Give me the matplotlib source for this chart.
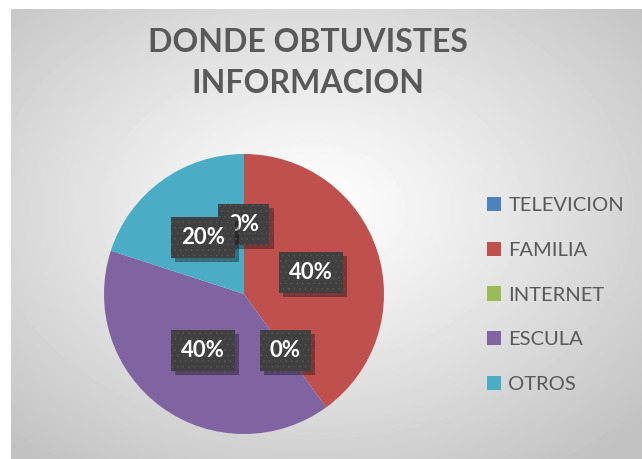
import matplotlib.pyplot as plt
import numpy as np
from matplotlib import patheffects as pe

# data
labels = ['TELEVICION', 'FAMILIA', 'INTERNET', 'ESCULA', 'OTROS']
values = [0, 40, 0, 40, 20]
colors = ['#4f81bd', '#c0504d', '#9bbb59', '#8064a2', '#4bacc6']

plt.rcParams['font.family'] = ['Lato', 'DejaVu Sans']
plt.rcParams['hatch.linewidth'] = 0.4

fig = plt.figure(figsize=(6.42, 4.59), dpi=100)

# background with radial gradient
bg = fig.add_axes([11/642, 0, 631/642, 450/459])
h, w = 450, 631
yy, xx = np.mgrid[0:h, 0:w]
d = np.sqrt(((xx - 300) / (w / 2))**2 + ((yy - 200) / (h / 2))**2) / np.sqrt(2)
img = 1 - 0.24 * np.clip(d, 0, 1)**1.1
bg.imshow(img, cmap='gray', vmin=0, vmax=1, aspect='auto', interpolation='bilinear')
bg.axis('off')

# pie
ax = fig.add_axes([104/642, 25/459, 280/642, 280/459])
wedges, texts, autotexts = ax.pie(values, colors=colors, startangle=90, counterclock=False,
                                  autopct='%.0f%%', pctdistance=0.5,
                                  wedgeprops=dict(linewidth=0))
for t in autotexts:
    t.set_color('white')
    t.set_fontsize(16)
    t.set_fontweight('bold')
    t.set_bbox(dict(boxstyle='square,pad=0.45', facecolor='#404040', edgecolor='#575757',
                    linewidth=0, hatch='...'))
    t.get_bbox_patch().set_path_effects([
        pe.SimplePatchShadow(offset=(3, -3), shadow_rgbFace='black', alpha=0.35),
        pe.Normal()])
ax.set_xlim(-1, 1)
ax.set_ylim(-1, 1)

# title
fig.text(308/642, 1 - 63/459, 'DONDE OBTUVISTES\nINFORMACION', ha='center', va='center',
         fontsize=23, fontweight='bold', color='#595959', linespacing=1.5)

# legend
fig.legend(wedges, labels, loc='center left', bbox_to_anchor=(469/642, 164/459),
           frameon=False, fontsize=14.5, labelcolor='#595959', handlelength=0.7,
           handleheight=0.7, handletextpad=0.35, labelspacing=1.38)

fig.savefig('out.png', dpi=100)
